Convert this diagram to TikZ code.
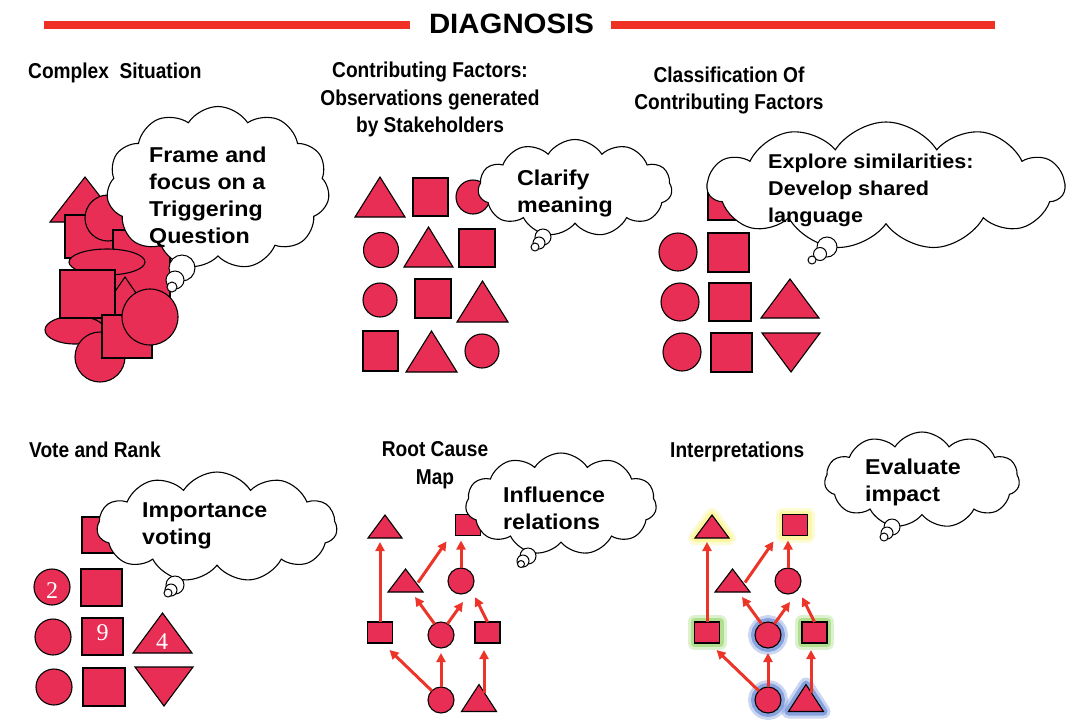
\documentclass[tikz,border=0pt]{standalone}
\usepackage{fontspec}
\setmainfont{Liberation Sans}
\newfontfamily\titlef{Liberation Sans}[FakeStretch=0.89]
\newfontfamily\cloudf{Liberation Sans}[FakeStretch=1.08]
\newfontfamily\headf{Liberation Sans}[FakeStretch=1.05]
\newfontfamily\numf{Liberation Serif}
\usetikzlibrary{shapes.symbols,shapes.geometric,arrows.meta,calc}
\definecolor{shapefill}{RGB}{233,46,86}
\definecolor{arrowred}{RGB}{237,52,40}
\definecolor{barred}{RGB}{238,49,36}
\definecolor{glowyellow}{RGB}{250,245,120}
\definecolor{glowgreen}{RGB}{140,210,90}
\definecolor{glowblue}{RGB}{80,120,210}
\tikzset{
  shp/.style={fill=shapefill, draw=black, line width=1.1pt},
  circ/.style={shp, circle, inner sep=0pt, outer sep=0pt},
  sq/.style={shp, rectangle, inner sep=0pt, outer sep=0pt},
  tribox/.style={rectangle, inner sep=0pt, outer sep=0pt},
  noglow/.style={},
  glowY/.style={preaction={draw=glowyellow, line width=14pt, opacity=.3, line join=round},
                preaction={draw=glowyellow, line width=8pt, opacity=.55, line join=round}},
  glowG/.style={preaction={draw=glowgreen, line width=14pt, opacity=.3, line join=round},
                preaction={draw=glowgreen, line width=8pt, opacity=.55, line join=round}},
  glowB/.style={preaction={draw=glowblue, line width=14pt, opacity=.3, line join=round},
                preaction={draw=glowblue, line width=8pt, opacity=.55, line join=round}},
  cloudbox/.style={cloud, cloud puffs=11, cloud puff arc=115, cloud ignores aspect,
                   draw=black, fill=white, line width=1.1pt, inner sep=0pt},
  bubble/.style={circle, draw=black, fill=white, line width=1pt, inner sep=0pt},
  ctext/.style={font=\cloudf\bfseries\fontsize{21.5}{27}\selectfont, align=left, inner sep=0pt, anchor=north west},
  ttext/.style={font=\titlef\bfseries\fontsize{21.5}{27.5}\selectfont, inner sep=0pt},
  arr/.style={draw=arrowred, line width=3pt, -{Triangle[length=9pt,width=9pt]}},
  numtext/.style={text=white, font=\numf\fontsize{24}{24}\selectfont, inner sep=0pt}
}
% triangle: [opts]{name}{cx}{cy}{w}{h}
\newcommand{\tri}[6][noglow]{%
  \node[tribox, minimum width=#5, minimum height=#6] (#2) at (#3,#4) {};
  \filldraw[shp,#1] (#2.south west) -- (#2.south east) -- (#2.north) -- cycle;}
\newcommand{\invtri}[6][noglow]{%
  \node[tribox, minimum width=#5, minimum height=#6] (#2) at (#3,#4) {};
  \filldraw[shp,#1] (#2.north west) -- (#2.north east) -- (#2.south) -- cycle;}
% root cause graph: prefix, dx, glow top, glow side squares, glow blue
\newcommand{\rcgraph}[5]{%
  \tri[#3]{#1t1}{385+#2}{526.5}{34}{23}
  \node[sq,#3, minimum width=25, minimum height=21] (#1s1) at (468+#2,525) {};
  \tri{#1t2}{405.5+#2}{580.5}{35}{23}
  \node[circ, minimum size=26] (#1c1) at (461+#2,581) {};
  \node[sq,#4, minimum width=25, minimum height=21] (#1s2) at (380+#2,632.5) {};
  \node[circ,#5, minimum size=26] (#1c2) at (441+#2,635) {};
  \node[sq,#4, minimum width=25, minimum height=21] (#1s3) at (487.5+#2,632.5) {};
  \node[circ,#5, minimum size=26] (#1c3) at (441+#2,700) {};
  \tri[#5]{#1t3}{479+#2}{698}{35}{27}
  \draw[arr, shorten >=4pt] (#1s2.north) -- (#1s2.north |- #1t1.south);
  \draw[arr] ($(#1t2.east)+(-5,2)$) -- ($(#1s1.south west)+(-9,6)$);
  \draw[arr, shorten >=5pt] (#1c1.north) -- (#1c1.north |- #1s1.south);
  \draw[arr] (#1c2.120) -- ($(#1t2.south east)+(-8,5)$);
  \draw[arr] (#1c2.60) -- ($(#1c1.south)+(2,8)$);
  \draw[arr] (#1s3.north) -- ($(#1c1.south east)+(5,7)$);
  \draw[arr] (#1c3.135) -- ($(#1s2.south east)+(-3,7)$);
  \draw[arr, shorten >=5pt] (#1c3.north) -- (#1c3.north |- #1c2.south);
  \draw[arr] ($(#1t3.north)+(5,8)$) -- ($(#1s3.south)+(-3.5,7)$);
}
\begin{document}
\begin{tikzpicture}[x=1pt,y=-1pt]
\useasboundingbox[fill=white] (0,0) rectangle (1073,721);
% ---------- header
\fill[barred] (44,21) rectangle (410,29);
\fill[barred] (611,21) rectangle (995,29);
\node[font=\headf\bfseries\fontsize{28}{30}\selectfont, inner sep=0pt, anchor=base] (head) at (511.5,33.5) {DIAGNOSIS};

% ---------- section titles
\node[ttext, anchor=base west] (tcomplex) at (28,78) {Complex\ \ Situation};
\node[ttext, anchor=north, align=center] (tcontrib) at (430,62) {Contributing Factors:\\Observations generated\\by Stakeholders};
\node[ttext, anchor=north, align=center] (tclass) at (729,66.5) {Classification Of\\Contributing Factors};
\node[ttext, anchor=base west] (tvote) at (29,457) {Vote and Rank};
\node[ttext, anchor=north, align=center] (troot) at (435,441.5) {Root Cause\\Map};
\node[ttext, anchor=base west] (tinterp) at (670,457) {Interpretations};

% ---------- section 1: complex situation
\filldraw[shp] (85,177) -- (120,222) -- (50,222) -- cycle;
\filldraw[shp] (65,215) rectangle (115,258);
\filldraw[shp] (108,218) circle[radius=23];
\filldraw[shp] (113,230) rectangle (170,297);
\filldraw[shp] (125,277) -- (158,325) -- (92,325) -- cycle;
\filldraw[shp] (107,262) ellipse[x radius=38, y radius=13];
\filldraw[shp] (75,330) ellipse[x radius=30, y radius=14];
\filldraw[shp] (60,270) rectangle (115,318);
\filldraw[shp] (100,357) circle[radius=25];
\filldraw[shp] (102,315) rectangle (152,358);
\filldraw[shp] (150,317) circle[radius=28];

% ---------- section 2: contributing factors
\tri{a1}{380}{197}{50}{40}
\node[sq, minimum width=35, minimum height=38] (a2) at (430.5,197) {};
\node[circ, minimum size=34] (a3) at (473,197) {};
\node[circ, minimum size=35] (a4) at (381,250) {};
\tri{a5}{428.5}{247}{49}{40}
\node[sq, minimum width=36, minimum height=38] (a6) at (477,248) {};
\node[circ, minimum size=34] (a7) at (380,300) {};
\node[sq, minimum width=36, minimum height=39] (a8) at (433,298.5) {};
\tri{a9}{482.5}{301.5}{51}{41}
\node[sq, minimum width=35, minimum height=40] (a10) at (380.5,351) {};
\tri{a11}{431.5}{351.5}{51}{41}
\node[circ, minimum size=34] (a12) at (482,351) {};

% ---------- section 3: classification
\node[sq, minimum width=40, minimum height=36] (b1) at (728,202) {};
\node[circ, minimum size=38] (b2) at (678,252) {};
\node[sq, minimum width=41, minimum height=39] (b3) at (728.5,252.5) {};
\node[circ, minimum size=38] (b4) at (680,302) {};
\node[sq, minimum width=42, minimum height=38] (b5) at (730,302) {};
\tri{b6}{790}{298.5}{58}{39}
\node[circ, minimum size=38] (b7) at (682,352) {};
\node[sq, minimum width=41, minimum height=39] (b8) at (731.5,352.5) {};
\invtri{b9}{791}{352.5}{58}{39}

% ---------- section 4: vote and rank
\node[sq, minimum width=38, minimum height=36] (v1) at (101,535) {};
\node[circ, minimum size=36] (v2) at (52,587) {};
\node[numtext] (n2) at (52,591) {2};
\node[sq, minimum width=41, minimum height=37] (v3) at (101.5,587.5) {};
\node[circ, minimum size=36] (v4) at (53,637) {};
\node[sq, minimum width=41, minimum height=37] (v5) at (102.5,636.5) {};
\node[numtext] (n9) at (102.5,633) {9};
\tri{v6}{162.5}{633}{59}{40}
\node[numtext] (n4) at (162,642) {4};
\node[circ, minimum size=36] (v7) at (54,687) {};
\node[sq, minimum width=42, minimum height=38] (v8) at (104,687) {};
\invtri{v9}{164}{686.5}{58}{39}

% ---------- sections 5 and 6: root cause map / interpretations
\rcgraph{r}{0}{noglow}{noglow}{noglow}
\rcgraph{i}{327}{glowY}{glowG}{glowB}

% ---------- clouds
\node[cloudbox, minimum width=223, minimum height=163] (k1) at (218,188) {};
\node[bubble, minimum size=26] (k1a) at (182,268) {};
\node[bubble, minimum size=18] (k1b) at (175,280) {};
\node[bubble, minimum size=10] (k1c) at (172,287) {};
\node[ctext] (k1t) at (149,147) {Frame and\\focus on a\\Triggering\\Question};

\node[cloudbox, minimum width=194, minimum height=97] (k2) at (575,188) {};
\node[bubble, minimum size=16] (k2a) at (543,237) {};
\node[bubble, minimum size=12] (k2b) at (539,243) {};
\node[bubble, minimum size=8] (k2c) at (535,247) {};
\node[ctext] (k2t) at (517,170) {Clarify\\meaning};

\node[cloudbox, minimum width=357, minimum height=128] (k3) at (886,186) {};
\node[bubble, minimum size=20] (k3a) at (827,247) {};
\node[bubble, minimum size=13] (k3b) at (820,254) {};
\node[bubble, minimum size=8] (k3c) at (812,260) {};
\node[ctext, font=\cloudf\bfseries\fontsize{20}{27}\selectfont] (k3t) at (768,153.5) {Explore similarities:\\Develop shared\\language};

\node[cloudbox, minimum width=240, minimum height=110] (k4) at (217,527) {};
\node[bubble, minimum size=18] (k4a) at (175,585) {};
\node[bubble, minimum size=12] (k4b) at (171,590) {};
\node[bubble, minimum size=8] (k4c) at (168,593) {};
\node[ctext] (k4t) at (142,502) {Importance\\voting};

\node[cloudbox, minimum width=191, minimum height=102] (k5) at (561,504) {};
\node[bubble, minimum size=16] (k5a) at (528,556) {};
\node[bubble, minimum size=12] (k5b) at (523,561) {};
\node[bubble, minimum size=7] (k5c) at (521,564) {};
\node[ctext] (k5t) at (503,487) {Influence\\relations};

\node[cloudbox, minimum width=195, minimum height=96] (k6) at (922,480) {};
\node[bubble, minimum size=16] (k6a) at (892,527) {};
\node[bubble, minimum size=12] (k6b) at (887,533) {};
\node[bubble, minimum size=8] (k6c) at (884,537) {};
\node[ctext] (k6t) at (865,459) {Evaluate\\impact};
\end{tikzpicture}
\end{document}
